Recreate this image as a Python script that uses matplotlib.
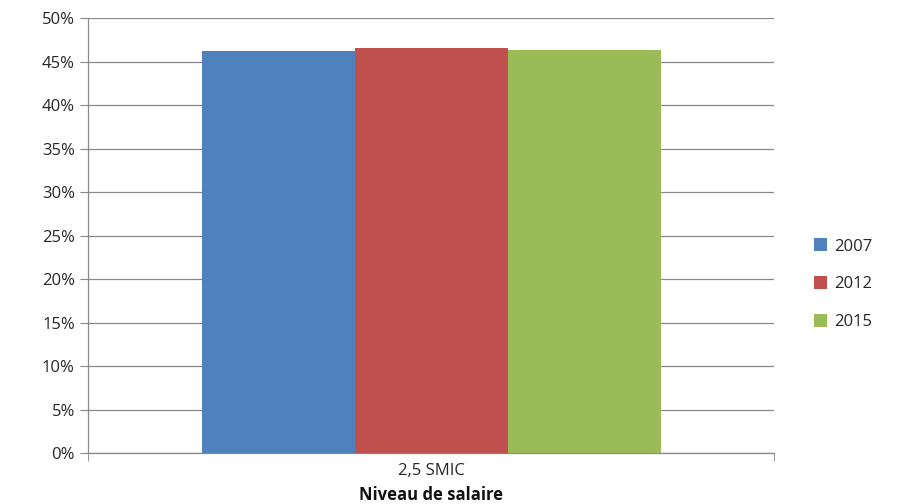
import numpy as np
import matplotlib.pyplot as plt
from matplotlib.ticker import PercentFormatter

plt.rcParams['font.family'] = ['Open Sans', 'DejaVu Sans']

# Share of wage level, by year
category = ['2,5 SMIC']
years = ['2007', '2012', '2015']
values = [46.2, 46.6, 46.3]
colors = ['#4F81BD', '#C0504D', '#9BBB59']

fig = plt.figure(figsize=(9.03, 5.04), dpi=100)
ax = fig.add_axes([0.0975, 0.101, 0.76, 0.863])

bar_w = 0.223
x = np.arange(len(category))
for i, (yr, v, c) in enumerate(zip(years, values, colors)):
    ax.bar(x + (i - 1) * bar_w, [v], width=bar_w, color=c, label=yr, zorder=3)

ax.set_xlim(-0.5, 0.5)
ax.set_ylim(0, 50)
ax.set_yticks(np.arange(0, 51, 5))
ax.yaxis.set_major_formatter(PercentFormatter(decimals=0))
ax.grid(axis='y', color='#888888', linewidth=0.9, zorder=0)

ax.set_xticks([-0.5, 0.5], minor=True)
ax.set_xticks(x)
ax.set_xticklabels(category)
ax.tick_params(axis='x', which='major', length=0, pad=7, labelsize=12, labelcolor='#262626')
ax.tick_params(axis='x', which='minor', length=6, color='#888888')
ax.tick_params(axis='y', length=6, color='#888888', labelsize=12, labelcolor='#262626')

for s in ['top', 'right']:
    ax.spines[s].set_visible(False)
for s in ['left', 'bottom']:
    ax.spines[s].set_color('#888888')
    ax.spines[s].set_linewidth(0.9)

ax.set_xlabel('Niveau de salaire', fontsize=12, fontweight='bold', color='#111111',
              va='center')
ax.xaxis.set_label_coords(0.5, -0.096)

ax.legend(loc='center left', bbox_to_anchor=(1.036, 0.388), frameon=False,
          handlelength=0.8, handleheight=0.8, handletextpad=0.4,
          labelspacing=1.3, fontsize=12, labelcolor='#262626')

fig.savefig('out.png', dpi=100)
